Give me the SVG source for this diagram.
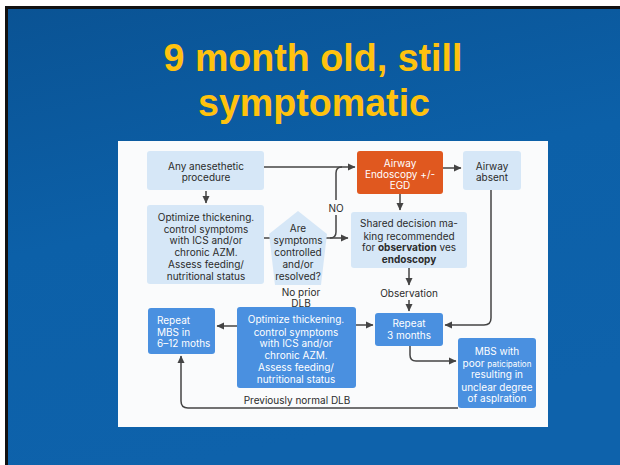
<svg xmlns="http://www.w3.org/2000/svg" width="620" height="465" viewBox="0 0 620 465">
<defs>
<linearGradient id="bg" x1="0" y1="0" x2="0.3" y2="1">
<stop offset="0" stop-color="#0a5394"/>
<stop offset="0.5" stop-color="#0c60a8"/>
<stop offset="1" stop-color="#0e62ab"/>
</linearGradient>
<marker id="ah" markerWidth="8" markerHeight="8" refX="7" refY="4" orient="auto" markerUnits="userSpaceOnUse">
<path d="M0,0.5 L7.5,4 L0,7.5 z" fill="#444"/>
</marker>
<style>
.t{font-family:Inter,"Liberation Sans",sans-serif;font-size:10px;fill:#2b2b2b;text-anchor:middle}
.w{fill:#ffffff}
.l{text-anchor:start}
.lb{fill:#d6e7f7}
.db{fill:#4a90e0}
.c{fill:none;stroke:#444;stroke-width:1.5}
.ttl{font-family:"Liberation Sans",Arial,sans-serif;font-weight:bold;font-size:39px;fill:#ffc20e;text-anchor:middle}
</style>
</defs>
<rect x="0" y="0" width="620" height="465" fill="#ffffff"/>
<rect x="5" y="6" width="615" height="459" fill="#111"/>
<rect x="8" y="9" width="612" height="456" fill="url(#bg)"/>
<text class="ttl" x="313" y="71" textLength="299" lengthAdjust="spacingAndGlyphs">9 month old, still</text>
<text class="ttl" x="314" y="116" textLength="232" lengthAdjust="spacingAndGlyphs">symptomatic</text>
<rect x="118" y="141" width="430" height="286" fill="#fafbfc"/>

<g id="connectors">
<path class="c" d="M264,167 H355" marker-end="url(#ah)"/>
<path class="c" d="M206,191 V203" marker-end="url(#ah)"/>
<path class="c" d="M264,238 H271"/>
<path class="c" d="M326,238 H348" marker-end="url(#ah)"/>
<path class="c" d="M330,238 Q336,238 336,232 V173 Q336,167 342,167"/>
<path class="c" d="M400,194 V210" marker-end="url(#ah)"/>
<path class="c" d="M443,168 H461" marker-end="url(#ah)"/>
<path class="c" d="M491,190 V318 Q491,325 484,325 H445" marker-end="url(#ah)"/>
<path class="c" d="M409,268 V285" marker-end="url(#ah)"/>
<path class="c" d="M409,300 V311" marker-end="url(#ah)"/>
<path class="c" d="M410,346 V355 Q410,361 416,361 H456" marker-end="url(#ah)"/>
<path class="c" d="M356,325 H373" marker-end="url(#ah)"/>
<path class="c" d="M237,326 H217" marker-end="url(#ah)"/>
<path class="c" d="M458,408 H188 Q181,408 181,401 V356" marker-end="url(#ah)"/>
<rect x="325" y="200" width="22" height="15" fill="#fafbfc"/>
<text class="t" x="336" y="212">NO</text>
<text class="t" x="301" y="296">No prior</text>
<text class="t" x="301" y="307">DLB</text>
<text class="t" x="409" y="297">Observation</text>
<text class="t" x="297" y="404">Previously normal DLB</text>
</g>

<g id="any">
<rect class="lb" x="147" y="151" width="117" height="39" rx="3"/>
<text class="t" x="206" y="170">Any anesethetic</text>
<text class="t" x="206" y="181">procedure</text>
</g>

<g id="optimize1">
<rect class="lb" x="147" y="205" width="117" height="79" rx="3"/>
<text class="t" x="206" y="221">Optimize thickening.</text>
<text class="t" x="206" y="233">control symptoms</text>
<text class="t" x="206" y="244">with ICS and/or</text>
<text class="t" x="206" y="256">chronic AZM.</text>
<text class="t" x="206" y="268">Assess feeding/</text>
<text class="t" x="206" y="280">nutritional status</text>
</g>

<g id="question">
<polygon class="lb" points="298,211 327,234 321,285 275,285 269,234"/>
<text class="t" x="298" y="232">Are</text>
<text class="t" x="298" y="244">symptoms</text>
<text class="t" x="298" y="256">controlled</text>
<text class="t" x="298" y="268">and/or</text>
<text class="t" x="298" y="280">resolved?</text>
</g>

<g id="endoscopy">
<rect x="357" y="151" width="86" height="43" rx="3" fill="#e0581f"/>
<text class="t w" x="400" y="167">Airway</text>
<text class="t w" x="400" y="178">Endoscopy +/-</text>
<text class="t w" x="400" y="189">EGD</text>
</g>

<g id="absent">
<rect class="lb" x="463" y="151" width="58" height="39" rx="3"/>
<text class="t" x="492" y="170">Airway</text>
<text class="t" x="492" y="181">absent</text>
</g>

<g id="shared">
<rect class="lb" x="351" y="212" width="116" height="56" rx="3"/>
<text class="t" x="409" y="227">Shared decision ma-</text>
<text class="t" x="409" y="240">king recommended</text>
<text class="t" x="409" y="251">for <tspan font-weight="bold">observation</tspan> ves</text>
<text class="t" x="409" y="263" font-weight="bold">endoscopy</text>
</g>

<g id="repeat3">
<rect class="db" x="375" y="313" width="68" height="33" rx="3"/>
<text class="t w" x="409" y="327">Repeat</text>
<text class="t w" x="409" y="339">3 months</text>
</g>

<g id="mbs">
<rect class="db" x="458" y="338" width="78" height="70" rx="3"/>
<text class="t w" x="497" y="355">MBS with</text>
<text class="t w" x="497" y="367">poor <tspan font-size="8px">paticipation</tspan></text>
<text class="t w" x="497" y="378">resulting in</text>
<text class="t w" x="497" y="391">unclear degree</text>
<text class="t w" x="497" y="402">of asplration</text>
</g>

<g id="optimize2">
<rect class="db" x="237" y="307" width="119" height="81" rx="3"/>
<text class="t w" x="296" y="323">Optimize thickening.</text>
<text class="t w" x="296" y="336">control symptoms</text>
<text class="t w" x="296" y="347">with ICS and/or</text>
<text class="t w" x="296" y="359">chronic AZM.</text>
<text class="t w" x="296" y="371">Assess feeding/</text>
<text class="t w" x="296" y="383">nutritional status</text>
</g>

<g id="repeatmbs">
<rect class="db" x="148" y="308" width="67" height="46" rx="3"/>
<text class="t w l" x="157" y="324">Repeat</text>
<text class="t w l" x="157" y="336">MBS in</text>
<text class="t w l" x="157" y="347">6–12 moths</text>
</g>
</svg>
